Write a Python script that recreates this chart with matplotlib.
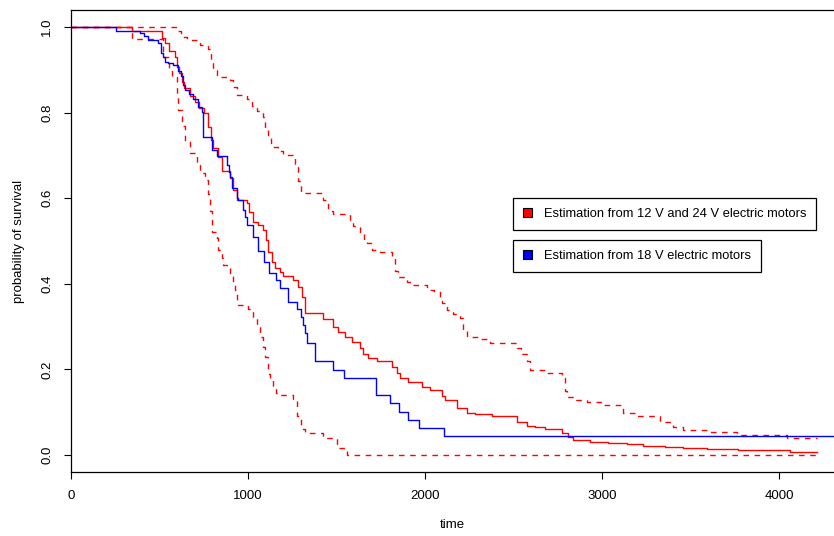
import matplotlib
matplotlib.use("Agg")
import matplotlib.pyplot as plt
from matplotlib.patches import Patch

plt.rcParams['font.family'] = ['Liberation Sans', 'DejaVu Sans']

# 18 V motors (Kaplan-Meier estimate), step times and survival after each step
t_18v = [0, 254, 390, 412, 435, 492, 508, 520, 531, 548, 576, 605, 621, 633, 644,
         667, 689, 718, 740, 746, 797, 825, 881, 893, 898, 910, 938, 944, 972,
         983, 994, 1028, 1056, 1090, 1119, 1158, 1181, 1222, 1277, 1299, 1311,
         1322, 1333, 1379, 1480, 1542, 1723, 1802, 1853, 1904, 1966, 2107, 4320]
s_18v = [1.0, 0.991, 0.986, 0.979, 0.970, 0.963, 0.939, 0.930, 0.918, 0.916, 0.911,
         0.897, 0.886, 0.864, 0.853, 0.843, 0.832, 0.813, 0.801, 0.743, 0.713,
         0.699, 0.678, 0.661, 0.650, 0.624, 0.600, 0.596, 0.572, 0.556, 0.537,
         0.509, 0.477, 0.451, 0.425, 0.409, 0.390, 0.357, 0.341, 0.322, 0.304,
         0.285, 0.262, 0.220, 0.199, 0.180, 0.140, 0.121, 0.100, 0.082, 0.063,
         0.045, 0.045]

# 12 V and 24 V motors
t_1224 = [0, 345, 514, 531, 554, 588, 599, 610, 627, 638, 672, 701, 723, 751, 774,
          791, 802, 831, 853, 898, 915, 938, 994, 1006, 1028, 1056, 1085, 1102,
          1113, 1136, 1153, 1181, 1198, 1254, 1282, 1305, 1322, 1424, 1480, 1508,
          1548, 1588, 1633, 1650, 1678, 1729, 1814, 1842, 1859, 1904, 1983, 2028,
          2096, 2113, 2181, 2237, 2282, 2379, 2520, 2576, 2621, 2678, 2774, 2808,
          2836, 2932, 3034, 3141, 3232, 3356, 3458, 3593, 3768, 4062, 4215]
s_1224 = [1.0, 0.991, 0.974, 0.963, 0.944, 0.930, 0.907, 0.893, 0.871, 0.857, 0.839,
          0.825, 0.811, 0.799, 0.766, 0.736, 0.717, 0.696, 0.664, 0.647, 0.619,
          0.596, 0.589, 0.568, 0.544, 0.537, 0.526, 0.502, 0.474, 0.451, 0.437,
          0.428, 0.418, 0.409, 0.393, 0.369, 0.332, 0.318, 0.299, 0.287, 0.276,
          0.264, 0.250, 0.236, 0.227, 0.220, 0.206, 0.192, 0.180, 0.171, 0.159,
          0.152, 0.138, 0.129, 0.110, 0.098, 0.096, 0.091, 0.077, 0.068, 0.065,
          0.061, 0.051, 0.042, 0.035, 0.030, 0.028, 0.026, 0.021, 0.019, 0.016,
          0.014, 0.012, 0.007, 0.007]

# confidence band for 12 V and 24 V
t_low = [0, 345, 520, 554, 570, 599, 605, 627, 644, 672, 712, 730, 757, 774, 785,
         797, 825, 831, 853, 859, 887, 898, 915, 927, 938, 944, 1000, 1011, 1028,
         1051, 1068, 1085, 1096, 1113, 1124, 1141, 1158, 1181, 1254, 1277, 1299,
         1322, 1424, 1503, 1559, 4215]
s_low = [1.0, 0.972, 0.930, 0.900, 0.883, 0.840, 0.806, 0.770, 0.731, 0.706, 0.678,
         0.660, 0.643, 0.610, 0.570, 0.521, 0.507, 0.480, 0.460, 0.444, 0.437,
         0.420, 0.400, 0.386, 0.360, 0.350, 0.340, 0.339, 0.320, 0.300, 0.275,
         0.252, 0.230, 0.190, 0.175, 0.160, 0.145, 0.140, 0.130, 0.090, 0.060,
         0.051, 0.040, 0.016, 0.0, 0.0]

t_up = [0, 599, 620, 655, 729, 774, 791, 802, 825, 898, 915, 938, 994, 1020, 1051,
        1085, 1096, 1113, 1130, 1141, 1170, 1198, 1266, 1282, 1300, 1424, 1450,
        1480, 1576, 1593, 1633, 1655, 1672, 1700, 1746, 1814, 1830, 1845, 1898,
        1932, 2011, 2050, 2085, 2096, 2124, 2160, 2198, 2215, 2237, 2300, 2367,
        2520, 2540, 2576, 2593, 2689, 2774, 2790, 2802, 2850, 2915, 3000, 3119,
        3200, 3328, 3400, 3458, 3600, 3763, 4045, 4215]
s_up = [1.0, 0.990, 0.977, 0.970, 0.958, 0.950, 0.920, 0.900, 0.883, 0.876, 0.860,
        0.841, 0.832, 0.815, 0.804, 0.790, 0.760, 0.748, 0.730, 0.720, 0.710,
        0.701, 0.680, 0.640, 0.612, 0.595, 0.570, 0.563, 0.550, 0.535, 0.520,
        0.500, 0.495, 0.480, 0.474, 0.460, 0.430, 0.415, 0.404, 0.397, 0.386,
        0.380, 0.367, 0.355, 0.339, 0.330, 0.320, 0.290, 0.276, 0.270, 0.262,
        0.250, 0.235, 0.220, 0.199, 0.192, 0.180, 0.150, 0.136, 0.128, 0.124,
        0.117, 0.098, 0.091, 0.077, 0.065, 0.058, 0.054, 0.047, 0.040, 0.040]

x_ticks = [0, 1000, 2000, 3000, 4000]
y_ticks = [0.0, 0.2, 0.4, 0.6, 0.8, 1.0]
legend_labels = ["Estimation from 12 V and 24 V electric motors",
                 "Estimation from 18 V electric motors"]

fig = plt.figure(figsize=(8.34, 5.36), dpi=100)
ax = fig.add_axes([0.0855, 0.1194, 0.9145, 0.8619])

ax.step(t_up, s_up, where='post', color='red', lw=1, ls=(0, (4, 4)))
ax.step(t_low, s_low, where='post', color='red', lw=1, ls=(0, (4, 4)))
ax.step(t_1224, s_1224, where='post', color='red', lw=1)
ax.step(t_18v, s_18v, where='post', color='blue', lw=1)

ax.set_xlim(0, 4311)
ax.set_ylim(-0.04, 1.04)
ax.set_xticks(x_ticks)
ax.set_xticklabels([str(v) for v in x_ticks])
ax.set_yticks(y_ticks)
ax.set_yticklabels([f"{v:.1f}" for v in y_ticks], rotation=90, va='center')
ax.tick_params(direction='out', length=5, width=0.8, labelsize=9.5)
ax.tick_params(axis='y', pad=8)
ax.tick_params(axis='x', pad=8)
ax.spines['right'].set_visible(False)
for s in ['left', 'top', 'bottom']:
    ax.spines[s].set_linewidth(0.9)

ax.set_xlabel("time", fontsize=9.5, labelpad=12)
ax.set_ylabel("probability of survival", fontsize=9.5, labelpad=12)

leg1 = ax.legend(handles=[Patch(facecolor='red', edgecolor='black', lw=0.8)],
                 labels=[legend_labels[0]], loc='upper left',
                 bbox_to_anchor=(0.579, 0.593), borderaxespad=0, fancybox=False,
                 edgecolor='black', fontsize=9.3, handlelength=0.75,
                 handleheight=0.75, handletextpad=0.9, borderpad=0.75,
                 framealpha=1)
leg1.get_frame().set_linewidth(0.9)
ax.add_artist(leg1)
leg2 = ax.legend(handles=[Patch(facecolor='blue', edgecolor='black', lw=0.8)],
                 labels=[legend_labels[1]], loc='upper left',
                 bbox_to_anchor=(0.579, 0.502), borderaxespad=0, fancybox=False,
                 edgecolor='black', fontsize=9.3, handlelength=0.75,
                 handleheight=0.75, handletextpad=0.9, borderpad=0.75,
                 framealpha=1)
leg2.get_frame().set_linewidth(0.9)

fig.savefig("out.png", dpi=100)
